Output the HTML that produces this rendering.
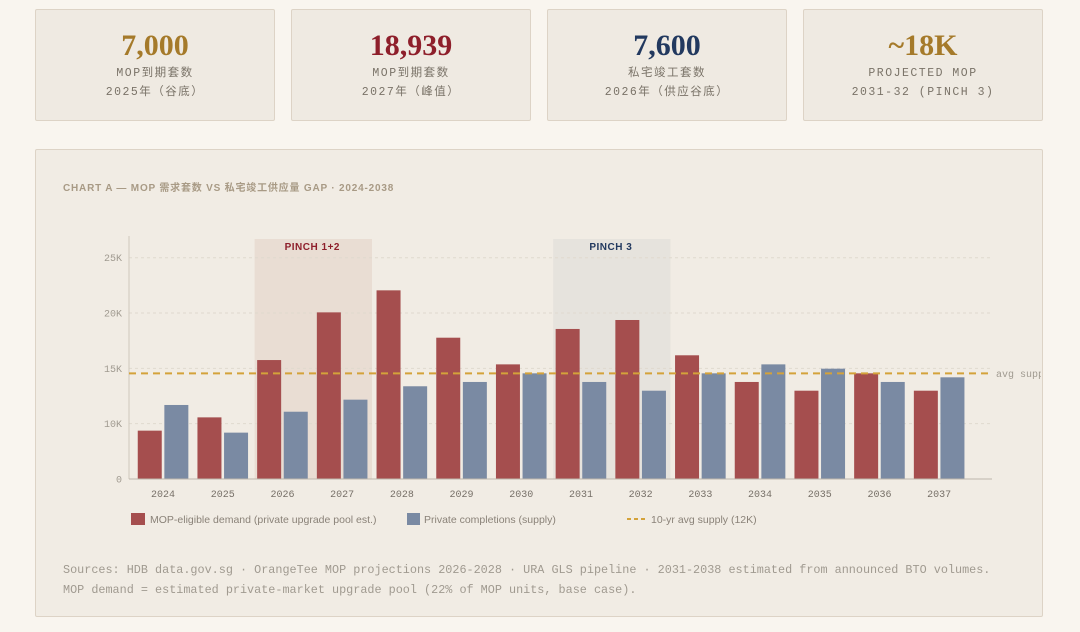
<!DOCTYPE html>
<html><head><meta charset="utf-8">
<style>
body{margin:0;width:1080px;height:632px;background:#f9f5ef;font-family:"Liberation Sans","Noto Sans CJK SC",sans-serif;position:relative;overflow:hidden}
.card{position:absolute;top:9px;width:238px;height:110px;background:#efeae2;border:1px solid #ddd3c6;border-radius:2px;text-align:center}
.big{font-family:"Liberation Serif","Noto Serif CJK SC",serif;font-size:30px;margin-top:20px;line-height:32px;font-weight:600}
.sub{font-family:"Liberation Mono","Noto Sans CJK SC",monospace;font-size:11.5px;color:#7a7368;letter-spacing:1.5px;line-height:19px;margin-top:2px}
.panel{position:absolute;left:35px;top:149px;width:1006px;height:466px;background:#f1ece4;border:1px solid #ddd3c6;border-radius:2px}
svg{position:absolute;left:0;top:0}
</style></head><body>
<div class="card" style="left:35px"><div class="big" style="color:#a57a2a">7,000</div><div class="sub">MOP到期套数<br>2025年（谷底）</div></div>
<div class="card" style="left:291px"><div class="big" style="color:#8e1f2b">18,939</div><div class="sub">MOP到期套数<br>2027年（峰值）</div></div>
<div class="card" style="left:547px"><div class="big" style="color:#22395f">7,600</div><div class="sub">私宅竣工套数<br>2026年（供应谷底）</div></div>
<div class="card" style="left:803px"><div class="big" style="color:#a57a2a">~18K</div><div class="sub">PROJECTED MOP<br>2031-32 (PINCH 3)</div></div>
<div class="panel"></div>
<svg id="chart" width="1080" height="632">
<defs><clipPath id="cp"><rect x="35" y="149" width="1006" height="466"/></clipPath></defs>
<g id="g" clip-path="url(#cp)"></g>
</svg>
<script>
const categories=["2024","2025","2026","2027","2028","2029","2030","2031","2032","2033","2034","2035","2036","2037"];
const demand=[4370,5570,10750,15060,17050,12770,10360,13560,14370,11180,8770,7980,9550,7980];
const supply=[6690,4190,6080,7170,8380,8770,9550,8770,7980,9550,10360,9970,8770,9190];
const avgSupply=9550;
const tickValues=[0,5000,10000,15000,20000];
const tickLabels=["0","10K","15K","20K","25K"];
const pinches=[{label:"PINCH 1+2",from:2,to:4,color:"#8e1f2b",fill:"#e9ddd3"},{label:"PINCH 3",from:7,to:9,color:"#22395f",fill:"#e6e3dd"}];
const NS="http://www.w3.org/2000/svg";
const g=document.getElementById('g');
const X0=133.2,BW=59.7,Y0=479,YMAX=20000,YH=221.3;
const x=i=>X0+i*BW;
const y=v=>Y0-v/YMAX*YH;
function el(t,a,txt){const e=document.createElementNS(NS,t);for(const k in a)e.setAttribute(k,a[k]);if(txt!=null)e.textContent=txt;g.appendChild(e);return e;}
const title=el('text',{x:63,y:191,'font-size':10,'font-weight':'bold','fill':'#a89a85','letter-spacing':'0.8','font-family':'"Liberation Sans","Noto Sans CJK SC",sans-serif'},'CHART A — MOP 需求套数 VS 私宅竣工供应量 GAP · 2024-2038');


pinches.forEach(p=>{
 const r=el('rect',{x:x(p.from)+2,y:239,width:x(p.to)-x(p.from)-2,height:Y0-239,fill:p.fill});
 
 
 const t=el('text',{x:(x(p.from)+x(p.to))/2,y:250,'text-anchor':'middle','font-size':10,'font-weight':'bold',fill:p.color,'letter-spacing':'0.5'},p.label);
 
 
});
tickValues.forEach((v,i)=>{
 if(i>0){const l=el('line',{x1:129,x2:992,y1:y(v),y2:y(v),stroke:'#e0d9ce','stroke-dasharray':'3 3'});
 
 }
 const t=el('text',{x:122,y:y(v)+3.5,'text-anchor':'end','font-size':10,fill:'#a09a90','font-family':'"Liberation Mono",monospace'},tickLabels[i]);
 
 
});
categories.forEach((c,i)=>{
 const cx=x(i)+BW/2;
 const d=el('rect',{x:cx-25.3,y:y(demand[i]),width:24,height:Y0-y(demand[i]),fill:'#a54e4e'});
 
 
 const s=el('rect',{x:cx+1.3,y:y(supply[i]),width:24,height:Y0-y(supply[i]),fill:'#7a8aa3'});
 
 
 const t=el('text',{x:cx,y:497,'text-anchor':'middle','font-size':10,fill:'#777068','font-family':'"Liberation Mono",monospace'},c);
 
 
});
const ax=el('line',{x1:129,x2:129,y1:236,y2:479,stroke:'#cfc8bd'});


const bx=el('line',{x1:129,x2:992,y1:479,y2:479,stroke:'#bdb6ab'});


const av=el('line',{x1:129,x2:992,y1:y(avgSupply),y2:y(avgSupply),stroke:'#d4a23a','stroke-width':2,'stroke-dasharray':'7 5'});


const avt=el('text',{x:996,y:y(avgSupply)+3.5,'font-size':10,fill:'#a09a90','font-family':'"Liberation Mono",monospace'},'avg supply');


const l1=el('rect',{x:131,y:513,width:14,height:12,fill:'#a54e4e'});


const l1t=el('text',{x:150,y:523,'font-size':10.5,fill:'#8a8278'},'MOP-eligible demand (private upgrade pool est.)');


const l2=el('rect',{x:407,y:513,width:13,height:12,fill:'#7a8aa3'});


const l2t=el('text',{x:424,y:523,'font-size':10.5,fill:'#8a8278'},'Private completions (supply)');


const l3=el('line',{x1:627,x2:648,y1:519,y2:519,stroke:'#d4a23a','stroke-width':2,'stroke-dasharray':'4 3'});


const l3t=el('text',{x:651,y:523,'font-size':10.5,fill:'#8a8278'},'10-yr avg supply (12K)');


const f1=el('text',{x:63,y:573,'font-size':11.8,fill:'#a09a90','font-family':'"Liberation Mono",monospace'},'Sources: HDB data.gov.sg · OrangeTee MOP projections 2026-2028 · URA GLS pipeline · 2031-2038 estimated from announced BTO volumes.');


const f2=el('text',{x:63,y:593,'font-size':11.8,fill:'#a09a90','font-family':'"Liberation Mono",monospace'},'MOP demand = estimated private-market upgrade pool (22% of MOP units, base case).');


</script>
</body></html>
